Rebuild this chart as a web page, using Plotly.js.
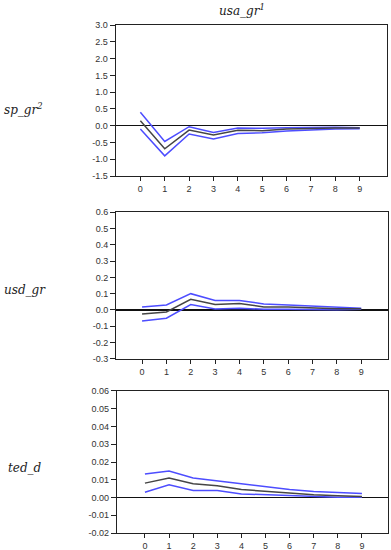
<!DOCTYPE html>
<html>
<head>
<meta charset="utf-8">
<script src="https://cdn.plot.ly/plotly-3.0.1.min.js"></script>
<style>html,body{margin:0;padding:0;background:#fff;}#chart{width:391px;height:550px;}</style>
</head>
<body>
<div id="chart"></div>
<script>
const periods = [0,1,2,3,4,5,6,7,8,9];

const spMid   = [0.15,-0.69,-0.13,-0.28,-0.14,-0.15,-0.10,-0.08,-0.07,-0.07];
const spUpper = [0.40,-0.47,-0.03,-0.20,-0.07,-0.08,-0.06,-0.05,-0.05,-0.06];
const spLower = [-0.10,-0.90,-0.25,-0.40,-0.23,-0.21,-0.16,-0.12,-0.10,-0.09];

const usdMid   = [-0.025,-0.012,0.065,0.033,0.040,0.019,0.019,0.012,0.008,0.007];
const usdUpper = [0.019,0.031,0.100,0.058,0.058,0.037,0.031,0.025,0.018,0.010];
const usdLower = [-0.068,-0.050,0.033,0.006,0.010,0.005,0.005,0.002,0.002,0.004];

const tedMid   = [0.0081,0.0110,0.0077,0.0066,0.0045,0.0034,0.0023,0.0016,0.0010,0.0006];
const tedUpper = [0.0132,0.0149,0.0110,0.0094,0.0074,0.0060,0.0045,0.0034,0.0027,0.0022];
const tedLower = [0.0030,0.0072,0.0040,0.0040,0.0020,0.0015,0.0008,0.0003,0.0002,0.0002];

const yTicks1 = [-1.5,-1.0,-0.5,0.0,0.5,1.0,1.5,2.0,2.5,3.0];
const yTicks2 = [-0.3,-0.2,-0.1,0.0,0.1,0.2,0.3,0.4,0.5,0.6];
const yTicks3 = [-0.02,-0.01,0.00,0.01,0.02,0.03,0.04,0.05,0.06];

const colTitle = 'usa_gr<sup>1</sup>';
const rowLabels = ['sp_gr<sup>2</sup>', 'usd_gr', 'ted_d'];

const blue = '#4d4dff';
const mid = '#454545';

function band(y, xa, ya, color, w) {
  return {x: periods, y: y, xaxis: xa, yaxis: ya, type: 'scatter', mode: 'lines',
          line: {color: color, width: w}, hoverinfo: 'skip', showlegend: false};
}

const data = [
  band(spUpper,'x','y',blue,1.5), band(spLower,'x','y',blue,1.5), band(spMid,'x','y',mid,1.5),
  band(usdUpper,'x2','y2',blue,1.5), band(usdLower,'x2','y2',blue,1.5), band(usdMid,'x2','y2',mid,1.5),
  band(tedUpper,'x3','y3',blue,1.5), band(tedLower,'x3','y3',blue,1.5), band(tedMid,'x3','y3',mid,1.5)
];

const tickFont = {family: 'Liberation Sans Narrow, Liberation Sans, sans-serif', size: 9, color: '#333'};
const labFont = {family: 'DejaVu Serif, Liberation Serif, serif', size: 12, color: '#222', style: 'italic'};

function xax(domain, range, anchor) {
  return {domain: domain, range: range, anchor: anchor, tickvals: periods, ticktext: periods.map(String),
          ticks: 'outside', ticklen: 4, tickwidth: 1, tickcolor: '#222', showline: true, mirror: true,
          linecolor: '#222', linewidth: 1, showgrid: false, zeroline: false, tickfont: tickFont, fixedrange: true};
}
function yax(domain, range, anchor, vals, dec) {
  return {domain: domain, range: range, anchor: anchor, tickvals: vals, ticktext: vals.map(v => v.toFixed(dec)),
          ticks: 'outside', ticklen: 5, tickwidth: 1, tickcolor: '#222', showline: true, mirror: true,
          linecolor: '#222', linewidth: 1, showgrid: false, zeroline: true, zerolinecolor: '#111', zerolinewidth: 1.2,
          tickfont: tickFont, fixedrange: true};
}

const layout = {
  width: 391, height: 550,
  margin: {l: 0, r: 0, t: 0, b: 0},
  paper_bgcolor: '#fff', plot_bgcolor: '#fff',
  showlegend: false,
  xaxis:  xax([0.2954, 0.9898], [-1.02, 10.12], 'y'),
  yaxis:  yax([0.68, 0.9545], [-1.5, 3.0], 'x', yTicks1, 1),
  xaxis2: xax([0.2967, 0.9923], [-1.07, 10.1], 'y2'),
  yaxis2: yax([0.3473, 0.6145], [-0.3, 0.6], 'x2', yTicks2, 1),
  xaxis3: xax([0.2985, 0.9923], [-1.17, 10.08], 'y3'),
  yaxis3: yax([0.0309, 0.2891], [-0.02, 0.06], 'x3', yTicks3, 2),
  annotations: [
    {text: colTitle, xref: 'paper', yref: 'paper', x: 242/391, y: 1 - 10/550, xanchor: 'center', yanchor: 'middle',
     showarrow: false, font: labFont},
    {text: rowLabels[0], xref: 'paper', yref: 'paper', x: 2/391, y: 1 - 109/550, xanchor: 'left', yanchor: 'middle',
     showarrow: false, font: labFont},
    {text: rowLabels[1], xref: 'paper', yref: 'paper', x: 2/391, y: 1 - 290/550, xanchor: 'left', yanchor: 'middle',
     showarrow: false, font: labFont},
    {text: rowLabels[2], xref: 'paper', yref: 'paper', x: 6/391, y: 1 - 468/550, xanchor: 'left', yanchor: 'middle',
     showarrow: false, font: labFont}
  ]
};

Plotly.newPlot('chart', data, layout, {staticPlot: true, displayModeBar: false});
</script>
</body>
</html>
